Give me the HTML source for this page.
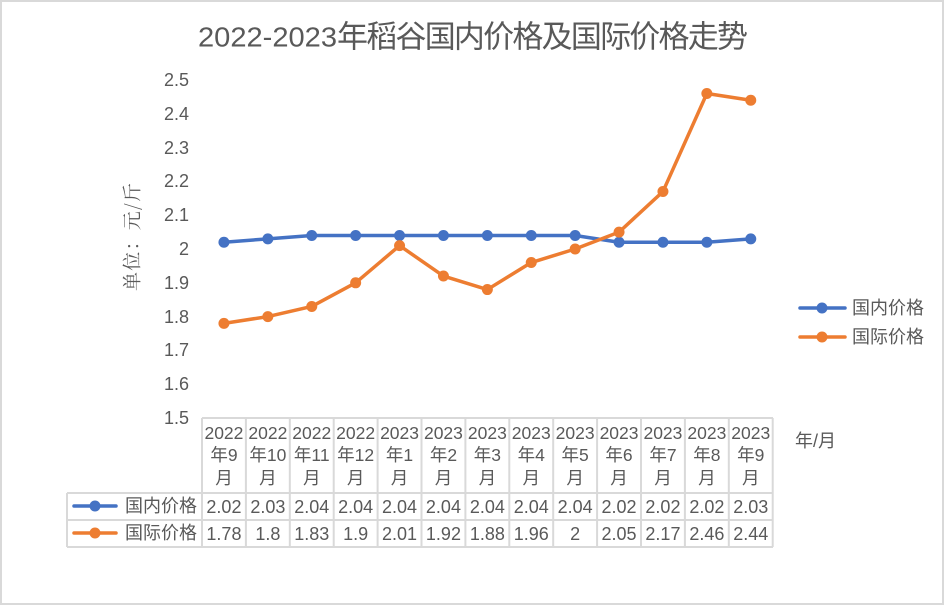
<!DOCTYPE html>
<html><head><meta charset="utf-8"><style>
html,body{margin:0;padding:0;background:#fff;}
svg{display:block;}
text{font-family:"Liberation Sans","Noto Sans CJK SC",sans-serif;fill:#595959;}
</style></head><body>
<svg width="946" height="606" viewBox="0 0 946 606" xmlns="http://www.w3.org/2000/svg">
<rect x="1" y="1" width="942" height="603" fill="#fff" stroke="#d9d9d9" stroke-width="2"/>
<!-- Title -->
<text x="198" y="37" font-size="28" dominant-baseline="central" textLength="139" lengthAdjust="spacingAndGlyphs">2022-2023</text>
<text x="337" y="37" font-size="31" dominant-baseline="central" textLength="411" lengthAdjust="spacing">年稻谷国内价格及国际价格走势</text>
<!-- Y axis title -->
<text transform="translate(131,237) rotate(-90)" text-anchor="middle" dominant-baseline="central" font-size="19" style="font-family:'Noto Serif CJK SC','Noto Sans CJK SC',serif" textLength="108" lengthAdjust="spacing">单位：元/斤</text>
<!-- Y ticks -->
<g font-size="18" text-anchor="end">
<text x="189" y="80" dominant-baseline="central">2.5</text>
<text x="189" y="114" dominant-baseline="central">2.4</text>
<text x="189" y="148" dominant-baseline="central">2.3</text>
<text x="189" y="181" dominant-baseline="central">2.2</text>
<text x="189" y="215" dominant-baseline="central">2.1</text>
<text x="189" y="249" dominant-baseline="central">2</text>
<text x="189" y="283" dominant-baseline="central">1.9</text>
<text x="189" y="317" dominant-baseline="central">1.8</text>
<text x="189" y="350" dominant-baseline="central">1.7</text>
<text x="189" y="384" dominant-baseline="central">1.6</text>
<text x="189" y="418" dominant-baseline="central">1.5</text>
</g>
<!-- Series: domestic -->
<g fill="#4472C4">
<polyline fill="none" stroke="#4472C4" stroke-width="3.5" stroke-linejoin="round" points="223.95,242.24 267.85,238.86 311.75,235.48 355.65,235.48 399.55,235.48 443.45,235.48 487.35,235.48 531.25,235.48 575.15,235.48 619.05,242.24 662.95,242.24 706.85,242.24 750.75,238.86"/>
<circle cx="223.95" cy="242.24" r="5.5"/><circle cx="267.85" cy="238.86" r="5.5"/><circle cx="311.75" cy="235.48" r="5.5"/><circle cx="355.65" cy="235.48" r="5.5"/><circle cx="399.55" cy="235.48" r="5.5"/><circle cx="443.45" cy="235.48" r="5.5"/><circle cx="487.35" cy="235.48" r="5.5"/><circle cx="531.25" cy="235.48" r="5.5"/><circle cx="575.15" cy="235.48" r="5.5"/><circle cx="619.05" cy="242.24" r="5.5"/><circle cx="662.95" cy="242.24" r="5.5"/><circle cx="706.85" cy="242.24" r="5.5"/><circle cx="750.75" cy="238.86" r="5.5"/>
</g>
<!-- Series: international -->
<g fill="#ED7D31">
<polyline fill="none" stroke="#ED7D31" stroke-width="3.5" stroke-linejoin="round" points="223.95,323.36 267.85,316.6 311.75,306.46 355.65,282.8 399.55,245.62 443.45,276.04 487.35,289.56 531.25,262.52 575.15,249 619.05,232.1 662.95,191.54 706.85,93.52 750.75,100.28"/>
<circle cx="223.95" cy="323.36" r="5.5"/><circle cx="267.85" cy="316.6" r="5.5"/><circle cx="311.75" cy="306.46" r="5.5"/><circle cx="355.65" cy="282.8" r="5.5"/><circle cx="399.55" cy="245.62" r="5.5"/><circle cx="443.45" cy="276.04" r="5.5"/><circle cx="487.35" cy="289.56" r="5.5"/><circle cx="531.25" cy="262.52" r="5.5"/><circle cx="575.15" cy="249" r="5.5"/><circle cx="619.05" cy="232.1" r="5.5"/><circle cx="662.95" cy="191.54" r="5.5"/><circle cx="706.85" cy="93.52" r="5.5"/><circle cx="750.75" cy="100.28" r="5.5"/>
</g>
<!-- Right legend -->
<line x1="800" y1="308" x2="845" y2="308" stroke="#4472C4" stroke-width="3.5" stroke-linecap="round"/>
<circle cx="822" cy="308" r="5.5" fill="#4472C4"/>
<text x="852" y="308" font-size="18" dominant-baseline="central">国内价格</text>
<line x1="800" y1="337" x2="845" y2="337" stroke="#ED7D31" stroke-width="3.5" stroke-linecap="round"/>
<circle cx="822" cy="337" r="5.5" fill="#ED7D31"/>
<text x="852" y="337" font-size="18" dominant-baseline="central">国际价格</text>
<!-- 年/月 -->
<text x="795" y="441" font-size="18" dominant-baseline="central">年/月</text>
<!-- Table grid -->
<g stroke="#d9d9d9" stroke-width="2" fill="none">
<line x1="202" y1="418" x2="773" y2="418"/>
<line x1="67" y1="493" x2="773" y2="493"/>
<line x1="67" y1="520" x2="773" y2="520"/>
<line x1="67" y1="547" x2="773" y2="547"/>
<line x1="67" y1="493" x2="67" y2="547"/>
<line x1="202" y1="418" x2="202" y2="547"/>
<line x1="245.9" y1="418" x2="245.9" y2="547"/>
<line x1="289.8" y1="418" x2="289.8" y2="547"/>
<line x1="333.7" y1="418" x2="333.7" y2="547"/>
<line x1="377.6" y1="418" x2="377.6" y2="547"/>
<line x1="421.5" y1="418" x2="421.5" y2="547"/>
<line x1="465.4" y1="418" x2="465.4" y2="547"/>
<line x1="509.3" y1="418" x2="509.3" y2="547"/>
<line x1="553.2" y1="418" x2="553.2" y2="547"/>
<line x1="597.1" y1="418" x2="597.1" y2="547"/>
<line x1="641" y1="418" x2="641" y2="547"/>
<line x1="684.9" y1="418" x2="684.9" y2="547"/>
<line x1="728.8" y1="418" x2="728.8" y2="547"/>
<line x1="772.7" y1="418" x2="772.7" y2="547"/>
</g>
<!-- Table legend -->
<line x1="74" y1="506" x2="116" y2="506" stroke="#4472C4" stroke-width="3.5" stroke-linecap="round"/>
<circle cx="95" cy="506" r="5.5" fill="#4472C4"/>
<text x="125" y="506" font-size="18" dominant-baseline="central">国内价格</text>
<line x1="74" y1="533" x2="116" y2="533" stroke="#ED7D31" stroke-width="3.5" stroke-linecap="round"/>
<circle cx="95" cy="533" r="5.5" fill="#ED7D31"/>
<text x="125" y="533" font-size="18" dominant-baseline="central">国际价格</text>
<!-- Table header -->
<g font-size="17.5" text-anchor="middle">
<text x="223.95" y="433" dominant-baseline="central">2022</text><text x="223.95" y="455" dominant-baseline="central">年9</text><text x="223.95" y="478" dominant-baseline="central">月</text>
<text x="267.85" y="433" dominant-baseline="central">2022</text><text x="267.85" y="455" dominant-baseline="central">年10</text><text x="267.85" y="478" dominant-baseline="central">月</text>
<text x="311.75" y="433" dominant-baseline="central">2022</text><text x="311.75" y="455" dominant-baseline="central">年11</text><text x="311.75" y="478" dominant-baseline="central">月</text>
<text x="355.65" y="433" dominant-baseline="central">2022</text><text x="355.65" y="455" dominant-baseline="central">年12</text><text x="355.65" y="478" dominant-baseline="central">月</text>
<text x="399.55" y="433" dominant-baseline="central">2023</text><text x="399.55" y="455" dominant-baseline="central">年1</text><text x="399.55" y="478" dominant-baseline="central">月</text>
<text x="443.45" y="433" dominant-baseline="central">2023</text><text x="443.45" y="455" dominant-baseline="central">年2</text><text x="443.45" y="478" dominant-baseline="central">月</text>
<text x="487.35" y="433" dominant-baseline="central">2023</text><text x="487.35" y="455" dominant-baseline="central">年3</text><text x="487.35" y="478" dominant-baseline="central">月</text>
<text x="531.25" y="433" dominant-baseline="central">2023</text><text x="531.25" y="455" dominant-baseline="central">年4</text><text x="531.25" y="478" dominant-baseline="central">月</text>
<text x="575.15" y="433" dominant-baseline="central">2023</text><text x="575.15" y="455" dominant-baseline="central">年5</text><text x="575.15" y="478" dominant-baseline="central">月</text>
<text x="619.05" y="433" dominant-baseline="central">2023</text><text x="619.05" y="455" dominant-baseline="central">年6</text><text x="619.05" y="478" dominant-baseline="central">月</text>
<text x="662.95" y="433" dominant-baseline="central">2023</text><text x="662.95" y="455" dominant-baseline="central">年7</text><text x="662.95" y="478" dominant-baseline="central">月</text>
<text x="706.85" y="433" dominant-baseline="central">2023</text><text x="706.85" y="455" dominant-baseline="central">年8</text><text x="706.85" y="478" dominant-baseline="central">月</text>
<text x="750.75" y="433" dominant-baseline="central">2023</text><text x="750.75" y="455" dominant-baseline="central">年9</text><text x="750.75" y="478" dominant-baseline="central">月</text>
</g>
<!-- Table data -->
<g font-size="18" text-anchor="middle">
<text x="223.95" y="507" dominant-baseline="central">2.02</text>
<text x="267.85" y="507" dominant-baseline="central">2.03</text>
<text x="311.75" y="507" dominant-baseline="central">2.04</text>
<text x="355.65" y="507" dominant-baseline="central">2.04</text>
<text x="399.55" y="507" dominant-baseline="central">2.04</text>
<text x="443.45" y="507" dominant-baseline="central">2.04</text>
<text x="487.35" y="507" dominant-baseline="central">2.04</text>
<text x="531.25" y="507" dominant-baseline="central">2.04</text>
<text x="575.15" y="507" dominant-baseline="central">2.04</text>
<text x="619.05" y="507" dominant-baseline="central">2.02</text>
<text x="662.95" y="507" dominant-baseline="central">2.02</text>
<text x="706.85" y="507" dominant-baseline="central">2.02</text>
<text x="750.75" y="507" dominant-baseline="central">2.03</text>
<text x="223.95" y="534" dominant-baseline="central">1.78</text>
<text x="267.85" y="534" dominant-baseline="central">1.8</text>
<text x="311.75" y="534" dominant-baseline="central">1.83</text>
<text x="355.65" y="534" dominant-baseline="central">1.9</text>
<text x="399.55" y="534" dominant-baseline="central">2.01</text>
<text x="443.45" y="534" dominant-baseline="central">1.92</text>
<text x="487.35" y="534" dominant-baseline="central">1.88</text>
<text x="531.25" y="534" dominant-baseline="central">1.96</text>
<text x="575.15" y="534" dominant-baseline="central">2</text>
<text x="619.05" y="534" dominant-baseline="central">2.05</text>
<text x="662.95" y="534" dominant-baseline="central">2.17</text>
<text x="706.85" y="534" dominant-baseline="central">2.46</text>
<text x="750.75" y="534" dominant-baseline="central">2.44</text>
</g>
</svg>
</body></html>
